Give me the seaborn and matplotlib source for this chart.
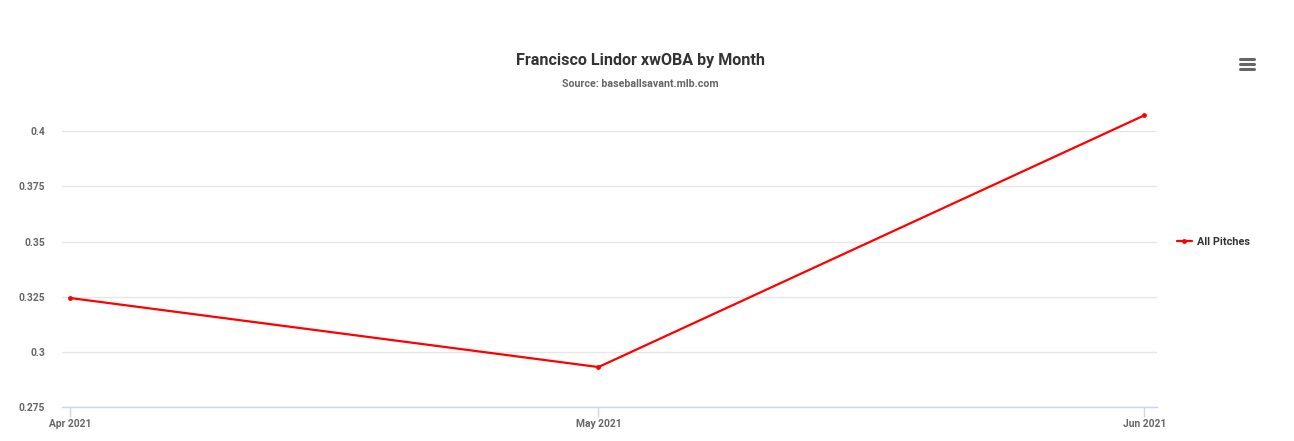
import pandas as pd
import seaborn as sns
import matplotlib.pyplot as plt
from matplotlib.lines import Line2D

# Data
months = ["2021-04-01", "2021-05-01", "2021-06-01"]
tick_labels = ["Apr 2021", "May 2021", "Jun 2021"]
xwoba = [0.3244, 0.2931, 0.4072]
series_name = "All Pitches"

df = pd.DataFrame({"month": pd.to_datetime(months), "xwOBA": xwoba, "series": series_name})

sns.set_theme(style="white")
plt.rcParams["font.family"] = ["Roboto", "DejaVu Sans"]

fig = plt.figure(figsize=(12.94, 4.41), dpi=100)
ax = fig.add_axes([0.0479, 0.0771, 0.8462, 0.678])

sns.lineplot(data=df, x="month", y="xwOBA", hue="series", palette=["#ff0000"],
             marker="o", markersize=3.5, markeredgewidth=0, linewidth=1.6, ax=ax)

ax.set_xlim(pd.Timestamp("2021-04-01") - pd.Timedelta(hours=11),
            pd.Timestamp("2021-06-01") + pd.Timedelta(hours=17))
ax.set_ylim(0.275, 0.4105)
ax.set_yticks([0.275, 0.3, 0.325, 0.35, 0.375, 0.4])
ax.set_yticklabels(["0.275", "0.3", "0.325", "0.35", "0.375", "0.4"])
ax.set_xticks(pd.to_datetime(months))
ax.set_xticklabels(tick_labels)

ax.grid(axis="y", color="#e6e6e6", linewidth=1)
ax.set_axisbelow(True)
for side in ["top", "right", "left"]:
    ax.spines[side].set_visible(False)
ax.spines["bottom"].set_color("#ccd6eb")
ax.spines["bottom"].set_linewidth(1)

ax.tick_params(axis="x", bottom=True, length=7, width=1, color="#ccd6eb", pad=2,
               labelsize=7.4, labelcolor="#666666")
ax.tick_params(axis="y", length=0, pad=12, labelsize=7.4, labelcolor="#666666")
for lbl in ax.get_xticklabels() + ax.get_yticklabels():
    lbl.set_fontweight("bold")
ax.set_xlabel("")
ax.set_ylabel("")

leg = ax.legend(loc="center left", bbox_to_anchor=(1.009, 0.552), frameon=False,
                handlelength=1.4, handletextpad=0.45, prop={"weight": "bold", "size": 7.8})
for t in leg.get_texts():
    t.set_color("#333333")

fig.text(0.4946, 0.862, "Francisco Lindor xwOBA by Month", ha="center", va="center",
         fontsize=11.6, fontweight="bold", color="#333333")
fig.text(0.4946, 0.809, "Source: baseballsavant.mlb.com", ha="center", va="center",
         fontsize=7.7, fontweight="bold", color="#666666")

# menu icon
for yy in [59, 64, 69]:
    fig.add_artist(Line2D([1240 / 1294, 1254 / 1294], [1 - yy / 441, 1 - yy / 441],
                          color="#666666", linewidth=2.2, solid_capstyle="round"))

fig.savefig("out.png", dpi=100)
